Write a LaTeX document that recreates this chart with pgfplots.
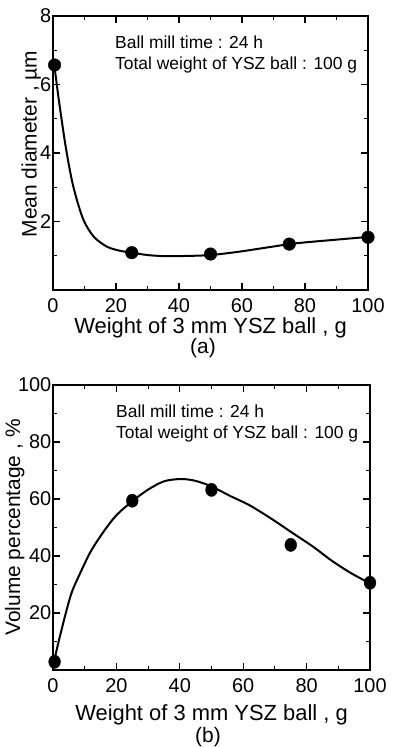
\documentclass[border=0pt]{standalone}
\usepackage{fontspec}
\setmainfont{Liberation Sans}
\usepackage{pgfplots}
\pgfplotsset{compat=1.18}
\pgfplotsset{
  myax/.style={
    scale only axis,
    xmin=0, xmax=100,
    xtick={0,20,40,60,80,100},
    minor xtick={10,30,50,70,90},
    tick align=inside,
    major tick length=7bp,
    minor tick length=4bp,
    axis line style={line width=1.3bp},
    every tick/.style={black, line width=1.1bp},
    tick label style={font=\fontsize{20}{20}\selectfont},
    xlabel style={font=\fontsize{22}{22}\selectfont},
    ylabel style={font=\fontsize{21}{21}\selectfont},
    /pgf/number format/assume math mode=true,
    xticklabel style={inner sep=0pt, yshift=-8bp},
    yticklabel style={inner sep=0pt, xshift=-1.5bp},
    clip=false,
  },
  curve/.style={smooth, line width=2bp, black, no marks},
  dots/.style={only marks, mark=*, mark size=6.3bp, black},
}
\begin{document}
\begin{tikzpicture}
\useasboundingbox (0bp,0bp) rectangle (393bp,747bp);

% ---------------- panel (a)
\begin{axis}[myax,
  at={(53bp,457bp)}, anchor=south west,
  width=315bp, height=274bp,
  ymin=0, ymax=8,
  ytick={2,4,6,8}, minor ytick={1,3,5,7},
  xlabel={Weight of 3 mm YSZ ball , g},
  xlabel style={at={(axis description cs:0.5,0)}, anchor=base, yshift=-44bp},
  ylabel={Mean diameter , µm},
  ylabel style={at={(axis description cs:-0.052,0.533)}, anchor=base},
]
\addplot[curve] coordinates {
 (0.5,6.5) (2,5.45) (4,4.2) (6,3.2) (8,2.5) (10,1.98)
 (13,1.55) (17,1.27) (21,1.15) (25,1.09) (30,1.02) (35,0.99)
 (40,0.99) (45,1.0) (50,1.02) (55,1.07) (60,1.13) (65,1.2)
 (70,1.27) (75,1.34) (80,1.39) (90,1.47) (100,1.55)
};
\addplot[dots] coordinates {
 (0.5,6.57) (25,1.09) (50,1.05) (75,1.34) (100,1.54)
};
\end{axis}

% ---------------- panel (b)
\begin{axis}[myax,
  at={(53bp,77bp)}, anchor=south west,
  width=317bp, height=285bp,
  ymin=0, ymax=100,
  ytick={20,40,60,80,100}, minor ytick={10,30,50,70,90},
  xlabel={Weight of 3 mm YSZ ball , g},
  xlabel style={at={(axis description cs:0.5,0)}, anchor=base, yshift=-50bp},
  ylabel={Volume percentage , \%},
  ylabel style={at={(axis description cs:-0.104,0.5)}, anchor=base},
]
\addplot[curve] coordinates {
 (0.3,2.9) (2,11) (4,19.8) (6,27.5) (9,35) (12,41.8)
 (16,48.6) (20,54.3) (25,59.2) (30,63.3) (35,66.2) (40,67)
 (44,66.6) (48,65.3) (52,63.3) (56,61) (62,57.8) (69,53)
 (75,48.5) (82,43.3) (88,38.3) (94,34) (100,30.4)
};
\addplot[dots, every mark/.append style={yscale=1.12}, mark size=5.9bp] coordinates {
 (0.5,2.9) (25,59.4) (50,63.2) (75,43.9) (100,30.6)
};
\end{axis}

% ---------------- annotations
\begin{scope}[every node/.style={font=\fontsize{17.5}{17.5}\selectfont, anchor=base west, inner sep=0pt}]
\node at (115bp,698bp) {Ball mill time : 24 h};
\node at (115bp,677bp) {Total weight of YSZ ball : 100 g};
\node at (116bp,329.7bp) {Ball mill time : 24 h};
\node at (116bp,308.7bp) {Total weight of YSZ ball : 100 g};
\end{scope}
\node[font=\fontsize{21}{21}\selectfont, anchor=base, inner sep=0pt] at (203bp,393.4bp) {(a)};
\node[font=\fontsize{21}{21}\selectfont, anchor=base, inner sep=0pt] at (208bp,5bp) {(b)};
\end{tikzpicture}
\end{document}
